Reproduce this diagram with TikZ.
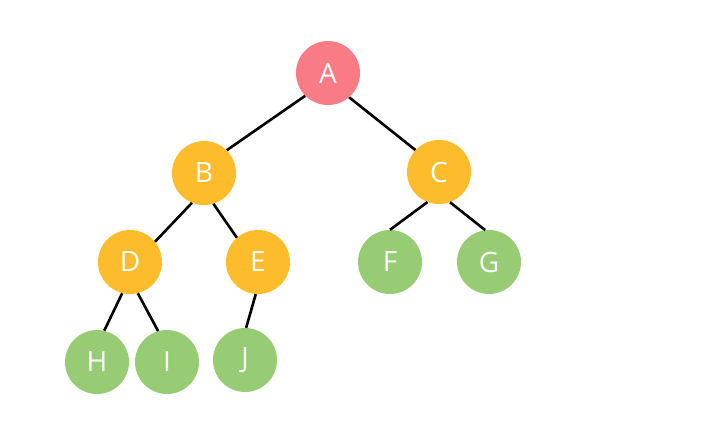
\documentclass[tikz,border=0pt]{standalone}
\usepackage{fontspec}
\setmainfont{Open Sans}
\usepackage{xcolor}
\usepackage{tikz}
\definecolor{rootc}{HTML}{F97B85}
\definecolor{innerc}{HTML}{FDBC2C}
\definecolor{leafc}{HTML}{97CC75}
\tikzset{
  vtx/.style={circle,draw=none,minimum size=64pt,inner sep=0pt,text=white,
    font=\fontsize{28}{28}\selectfont},
  vroot/.style={vtx,fill=rootc},
  vinner/.style={vtx,fill=innerc},
  vleaf/.style={vtx,fill=leafc},
  link/.style={draw=black,line width=2.6pt},
}
\begin{document}
\begin{tikzpicture}[x=1pt,y=-1pt]
  \useasboundingbox (0,0) rectangle (712,447);
  % --- tree nodes ---
  \node[vroot](A) at (328,73){A};
  \node[vinner](B) at (204,173){B};
  \node[vinner](C) at (439,172){C};
  \node[vinner](D) at (130,262){D};
  \node[vinner](E) at (258,262){E};
  \node[vleaf](F) at (390,262){F};
  \node[vleaf](G) at (489,262){G};
  \node[vleaf](H) at (97,362){H};
  \node[vleaf](I) at (167,362){I};
  \node[vleaf](J) at (245,360){J};
  % --- edges (from the lower rim of a parent to the upper rim of a child) ---
  \draw[link] (A.225) -- (B.45);
  \draw[link] (A.311) -- (C.137);
  \draw[link] (B.248) -- (D.39);
  \draw[link] (B.287) -- (E.131);
  \draw[link] (C.249) -- (F.90);
  \draw[link] (C.290) -- (G.97);
  \draw[link] (D.256) -- (H.77);
  \draw[link] (D.284) -- (I.106);
  \draw[link] (E.266) -- (J.88);
\end{tikzpicture}
\end{document}
